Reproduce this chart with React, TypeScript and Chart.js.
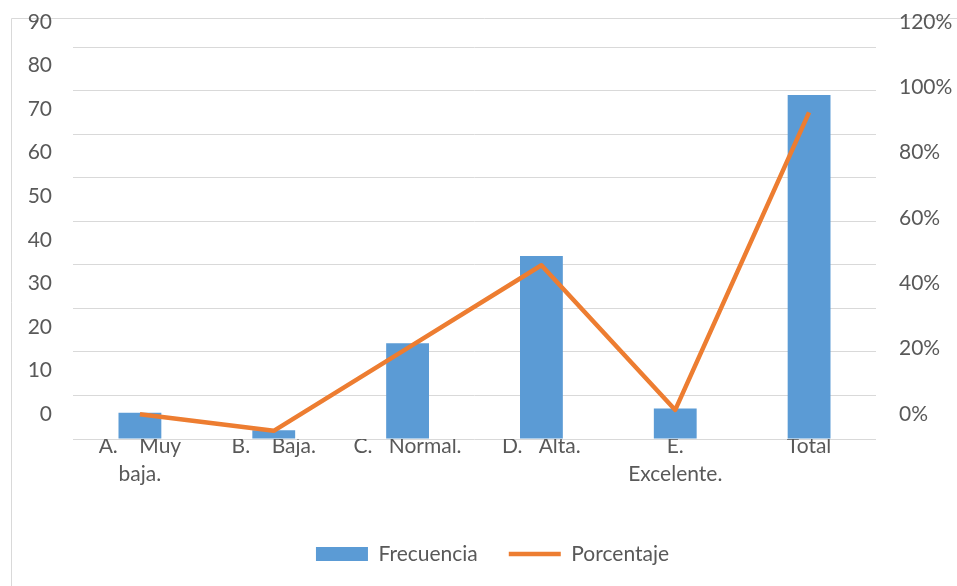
import React, { useEffect, useRef } from 'react';
import { Chart, registerables } from 'chart.js';

Chart.register(...registerables);

const categories: (string | string[])[] = [
  ['A.    Muy', 'baja.'],
  'B.    Baja.',
  'C.   Normal.',
  'D.   Alta.',
  ['E.', 'Excelente.'],
  'Total',
];
const frecuencia = [6, 2, 22, 42, 7, 79];
const porcentaje = [7.6, 2.5, 27.8, 53.2, 8.9, 100];

const BLUE = '#5B9BD5';
const ORANGE = '#ED7D31';
const GRID = '#D9D9D9';
const TEXT = '#595959';
const FS = 21;

const framePlugin = {
  id: 'frame',
  beforeDraw(chart: any) {
    const ctx = chart.ctx;
    ctx.save();
    ctx.fillStyle = '#ffffff';
    ctx.fillRect(0, 0, chart.width, chart.height);
    ctx.strokeStyle = GRID;
    ctx.lineWidth = 1;
    ctx.beginPath();
    ctx.moveTo(11.5, chart.height);
    ctx.lineTo(11.5, 18.5);
    ctx.lineTo(chart.width, 18.5);
    ctx.stroke();
    ctx.restore();
  },
};

const legendShift = {
  id: 'legendShift',
  afterLayout(chart: any) {
    const l = chart.legend;
    if (l) {
      l.left += 14;
      l.right += 14;
    }
  },
};

export default function App() {
  const ref = useRef<HTMLCanvasElement>(null);
  useEffect(() => {
    if (!ref.current) return;
    Chart.defaults.font.family = 'Lato';
    const chart = new Chart(ref.current, {
      type: 'bar',
      data: {
        labels: categories,
        datasets: [
          {
            type: 'line',
            label: 'Porcentaje',
            data: porcentaje,
            yAxisID: 'y1',
            borderColor: ORANGE,
            backgroundColor: ORANGE,
            borderWidth: 4.5,
            pointRadius: 0,
            borderJoinStyle: 'round',
            order: 0,
          } as any,
          {
            type: 'bar',
            label: 'Frecuencia',
            data: frecuencia,
            yAxisID: 'y',
            backgroundColor: BLUE,
            barPercentage: 0.32,
            categoryPercentage: 1,
            order: 1,
          },
        ],
      },
      options: {
        responsive: true,
        maintainAspectRatio: false,
        animation: false,
        layout: { padding: { top: 47, bottom: 11.5, left: 0, right: 0 } },
        plugins: {
          tooltip: { enabled: false },
          legend: {
            position: 'bottom',
            labels: {
              usePointStyle: true,
              pointStyleWidth: 52,
              boxHeight: 14,
              padding: 31,
              color: TEXT,
              font: { size: FS, family: 'Lato' },
              generateLabels: () => [
                {
                  text: 'Frecuencia',
                  fillStyle: BLUE,
                  strokeStyle: BLUE,
                  lineWidth: 0,
                  pointStyle: 'rect',
                  datasetIndex: 1,
                  fontColor: TEXT,
                } as any,
                {
                  text: 'Porcentaje',
                  fillStyle: ORANGE,
                  strokeStyle: ORANGE,
                  lineWidth: 4.5,
                  pointStyle: 'line',
                  datasetIndex: 0,
                  fontColor: TEXT,
                } as any,
              ],
            },
          },
        },
        scales: {
          x: {
            grid: { display: false, drawTicks: false },
            border: { display: false },
            ticks: {
              color: TEXT,
              font: { size: FS, family: 'Lato', lineHeight: 1.3 },
              padding: -6,
              maxRotation: 0,
              autoSkip: false,
            },
            afterFit: (s: any) => {
              s.height = 73.5;
            },
          },
          y: {
            position: 'left',
            min: 0,
            max: 90,
            grid: { color: GRID, lineWidth: 1, drawTicks: false },
            border: { display: false },
            ticks: {
              stepSize: 10,
              color: TEXT,
              font: { size: FS, family: 'Lato' },
              padding: 21,
              labelOffset: -25,
            },
            afterFit: (s: any) => {
              s.width = 73;
            },
          },
          y1: {
            position: 'right',
            min: 0,
            max: 120,
            grid: { display: false, drawTicks: false },
            border: { display: false },
            ticks: {
              stepSize: 20,
              color: TEXT,
              font: { size: FS, family: 'Lato' },
              padding: 23,
              labelOffset: -25,
              callback: (v: any) => v + '%',
            },
            afterFit: (s: any) => {
              s.width = 81;
            },
          },
        },
      },
      plugins: [framePlugin, legendShift],
    });
    return () => chart.destroy();
  }, []);
  return (
    <div style={{ position: 'fixed', left: 0, top: 0, width: 957, height: 586, background: '#fff' }}>
      <canvas ref={ref} />
    </div>
  );
}
